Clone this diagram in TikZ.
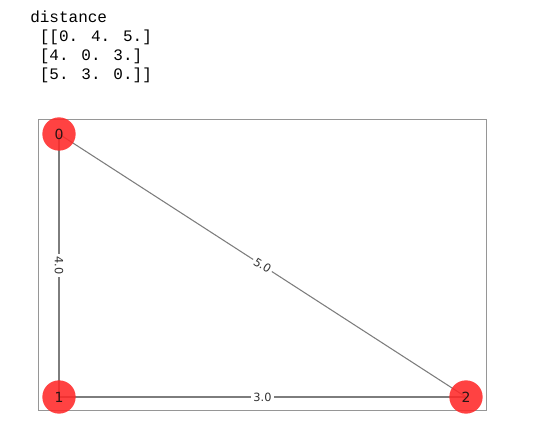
\documentclass[tikz,border=0pt]{standalone}
\usepackage{fontspec}
\setmainfont{DejaVu Sans}
\newfontfamily\codefont{Liberation Mono}
\usetikzlibrary{calc}
\begin{document}
\begin{tikzpicture}[x=0.75pt,y=-0.75pt,
  vertex/.style={circle,fill={rgb,255:red,255;green,40;blue,40},fill opacity=0.88,text opacity=1,minimum size=25pt,inner sep=0pt,font=\fontsize{10.5pt}{11pt}\selectfont,text={rgb,255:red,40;green,20;blue,20}},
  edge/.style={draw={rgb,255:red,125;green,125;blue,125},line width=0.8pt},
  elabel/.style={fill=white,inner sep=1.5pt,font=\fontsize{8.5pt}{9pt}\selectfont,text={rgb,255:red,50;green,50;blue,50}},
  codeline/.style={anchor=base west,inner sep=0pt,font=\codefont\fontsize{12pt}{14pt}\selectfont}]
\useasboundingbox (0,0) rectangle (533,431);
% printed text
\node[codeline] (t0) at (30,23) {distance};
\node[codeline] (t1) at (30,42) {\ [[0. 4. 5.]};
\node[codeline] (t2) at (30,61) {\ [4. 0. 3.]};
\node[codeline] (t3) at (30,80) {\ [5. 3. 0.]]};
% frame
\draw[draw={rgb,255:red,150;green,150;blue,150},line width=1.1pt] (38.5,119.5) rectangle (486.5,410.5);
% node positions
\coordinate (p0) at (59,134);
\coordinate (p1) at (59,397);
\coordinate (p2) at (466,397);
% edges
\draw[edge] (p0) -- (p1);
\draw[edge] (p1) -- (p2);
\draw[edge] (p0) -- (p2);
% nodes
\node[vertex] (n0) at (p0) {0};
\node[vertex] (n1) at (p1) {1};
\node[vertex] (n2) at (p2) {2};
% edge labels
\node[elabel,rotate=-90] (l01) at ($(p0)!0.5!(p1)$) {4.0};
\node[elabel] (l12) at ($(p1)!0.5!(p2)$) {3.0};
\node[elabel,rotate=-32.9] (l02) at ($(p0)!0.5!(p2)$) {5.0};
\end{tikzpicture}
\end{document}
